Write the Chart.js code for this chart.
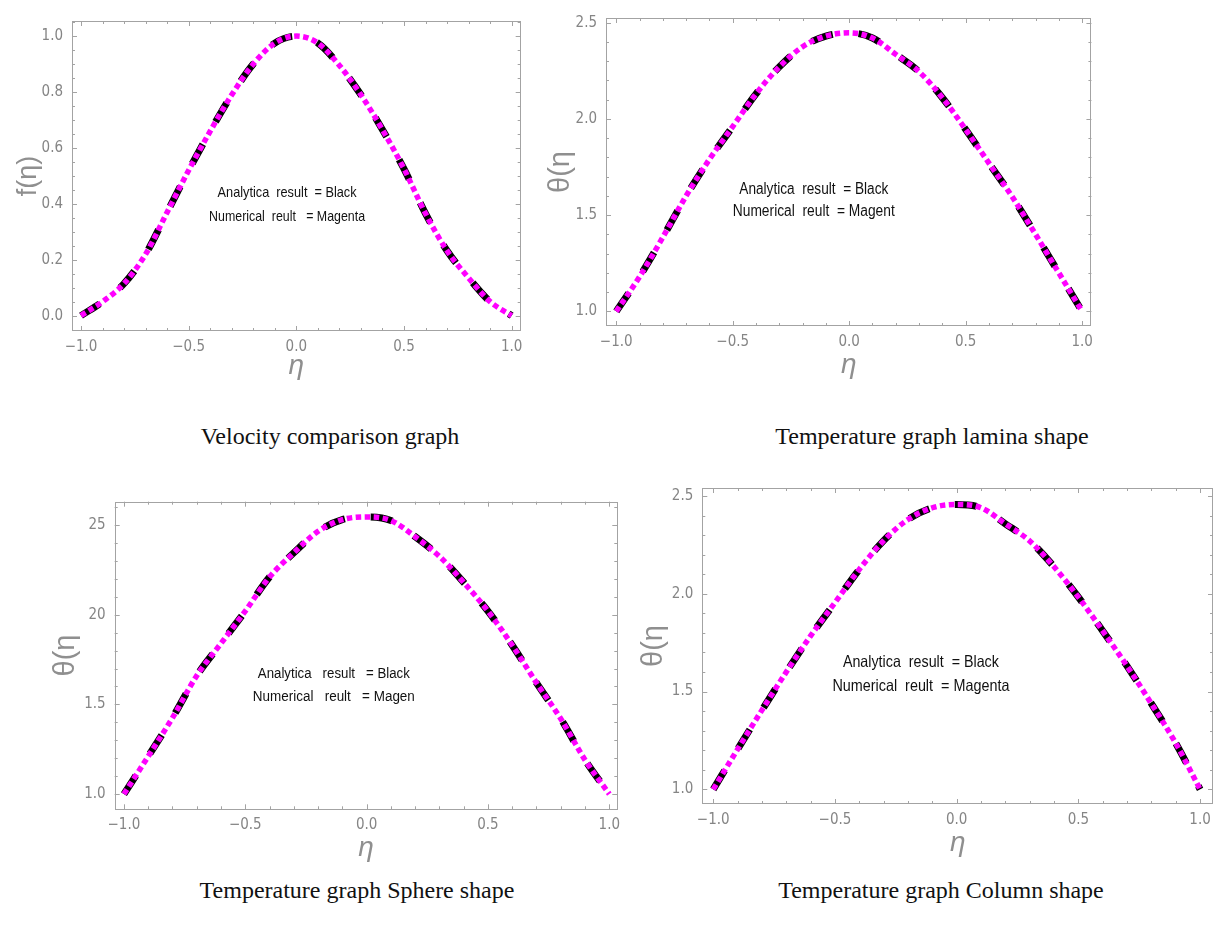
<!DOCTYPE html>
<html>
<head>
<meta charset="utf-8">
<script src="https://cdn.jsdelivr.net/npm/chart.js@4.4.0/dist/chart.umd.min.js"></script>
<style>
  body { margin: 0; background: #fff; width: 1223px; height: 926px; position: relative; overflow: hidden; }
  canvas { position: absolute; }
  .caption { position: absolute; font-family: "Liberation Serif", "Times New Roman", serif; font-size: 24px;
             line-height: 24px; color: #111; white-space: nowrap; transform: translateX(-50%); }
</style>
</head>
<body>
<canvas id="velocityChart" width="540" height="390" style="left:0px;top:0px"></canvas>
<canvas id="laminaChart" width="560" height="390" style="left:540px;top:0px"></canvas>
<canvas id="sphereChart" width="590" height="390" style="left:40px;top:480px"></canvas>
<canvas id="columnChart" width="593" height="400" style="left:630px;top:470px"></canvas>

<div class="caption" style="left:330px;top:424px">Velocity comparison graph</div>
<div class="caption" style="left:932px;top:424px">Temperature graph lamina shape</div>
<div class="caption" style="left:357px;top:878px">Temperature graph Sphere shape</div>
<div class="caption" style="left:941px;top:878px">Temperature graph Column shape</div>

<script>
// eta grid shared by all four plots
const eta = [-1.0, -0.9, -0.8, -0.7, -0.6, -0.5, -0.4, -0.3, -0.2, -0.1, 0.0,
              0.1, 0.2, 0.3, 0.4, 0.5, 0.6, 0.7, 0.8, 0.9, 1.0];

// values (analytical and numerical overlap)
const velocity   = [0.0, 0.05, 0.115, 0.22, 0.37, 0.52, 0.66, 0.79, 0.9, 0.975, 1.0,
                    0.975, 0.895, 0.79, 0.665, 0.525, 0.365, 0.232, 0.135, 0.05, 0.0];
const tempLamina = [1.0, 1.18, 1.385, 1.6, 1.79, 1.96, 2.13, 2.27, 2.375, 2.43, 2.447,
                    2.42, 2.335, 2.245, 2.11, 1.945, 1.77, 1.595, 1.4, 1.2, 1.0];
const tempSphere = [1.0, 1.21, 1.425, 1.66, 1.84, 2.02, 2.21, 2.345, 2.465, 2.53, 2.545,
                    2.525, 2.435, 2.325, 2.18, 2.02, 1.83, 1.62, 1.42, 1.19, 1.0];
const tempColumn = [1.0, 1.205, 1.405, 1.6, 1.785, 1.955, 2.125, 2.272, 2.38, 2.44, 2.457,
                    2.44, 2.358, 2.27, 2.138, 1.983, 1.81, 1.63, 1.438, 1.236, 1.0];

// tick labels
const xTickValues = [-1, -0.5, 0, 0.5, 1];
const xTickLabels = ["\u22121.0", "\u22120.5", "0.0", "0.5", "1.0"];
const velTickValues = [0, 0.2, 0.4, 0.6, 0.8, 1.0];
const velTickLabels = ["0.0", "0.2", "0.4", "0.6", "0.8", "1.0"];
const tempTickValues = [1.0, 1.5, 2.0, 2.5];
const tempTickLabels = ["1.0", "1.5", "2.0", "2.5"];
const sphereTickLabels = ["1.0", "1.5", "20", "25"];

const narrow = "'Liberation Sans Narrow', 'DejaVu Sans Condensed', 'Liberation Sans', sans-serif";
const frameGray = "#a3a3a3";
const labelGray = "#858585";

// Mathematica-style frame with inward ticks on all four sides + the text note
const frameTicks = {
    id: "frameTicks",
    afterDraw(chart, args, opts) {
        const { ctx, chartArea: a, scales: { x, y } } = chart;
        ctx.save();
        ctx.strokeStyle = frameGray;
        ctx.lineWidth = 1;
        ctx.strokeRect(Math.round(a.left) + 0.5, Math.round(a.top) + 0.5,
                       Math.round(a.width) - 1, Math.round(a.height) - 1);

        ctx.beginPath();
        const xMinor = opts.xMinor, yMinor = opts.yMinor;
        for (let k = Math.ceil(x.min / xMinor - 1e-6); k * xMinor <= x.max + 1e-9; k++) {
            const v = k * xMinor;
            const isMajor = Math.abs(v / opts.xMajor - Math.round(v / opts.xMajor)) < 1e-6;
            const len = isMajor ? 5 : 3;
            const px = Math.round(x.getPixelForValue(v)) + 0.5;
            ctx.moveTo(px, a.bottom); ctx.lineTo(px, a.bottom - len);
            ctx.moveTo(px, a.top); ctx.lineTo(px, a.top + len);
        }
        for (let k = Math.ceil(y.min / yMinor - 1e-6); k * yMinor <= y.max + 1e-9; k++) {
            const v = k * yMinor;
            const isMajor = Math.abs(v / opts.yMajor - Math.round(v / opts.yMajor)) < 1e-6;
            const len = isMajor ? 5 : 3;
            const py = Math.round(y.getPixelForValue(v)) + 0.5;
            ctx.moveTo(a.left, py); ctx.lineTo(a.left + len, py);
            ctx.moveTo(a.right, py); ctx.lineTo(a.right - len, py);
        }
        ctx.stroke();

        // annotation, squeezed to the condensed look of the original
        ctx.fillStyle = "#111";
        ctx.font = opts.noteSize + "px 'Liberation Sans', sans-serif";
        ctx.textAlign = "center";
        ctx.textBaseline = "middle";
        const cx = x.getPixelForValue(opts.noteX);
        opts.noteLines.forEach((line, i) => {
            const w = ctx.measureText(line).width;
            const sx = Math.min(1, opts.noteWidths[i] / w);
            ctx.save();
            ctx.translate(cx, y.getPixelForValue(opts.noteY[i]));
            ctx.scale(sx, 1);
            ctx.fillText(line, 0, 0);
            ctx.restore();
        });
        ctx.restore();
    }
};

function curves(values) {
    return [
        {
            label: "Numerical",
            data: eta.map((e, i) => ({ x: e, y: values[i] })),
            borderColor: "#ff00ff",
            borderWidth: 5.5,
            borderDash: [5.5, 3.5],
            order: 0
        },
        {
            label: "Analytical",
            data: eta.map((e, i) => ({ x: e, y: values[i] })),
            borderColor: "#000000",
            borderWidth: 7,
            borderDash: [22, 26],
            order: 1
        }
    ];
}

function makeChart(id, cfg) {
    new Chart(document.getElementById(id), {
        type: "line",
        data: { datasets: curves(cfg.values) },
        plugins: [frameTicks],
        options: {
            responsive: false,
            animation: false,
            devicePixelRatio: 1,
            layout: { padding: { left: 0, right: cfg.padRight, top: cfg.padTop, bottom: 0 } },
            elements: {
                point: { radius: 0 },
                line: { cubicInterpolationMode: "monotone", borderCapStyle: "butt", fill: false }
            },
            plugins: {
                legend: { display: false },
                tooltip: { enabled: false },
                frameTicks: {
                    xMajor: 0.5, xMinor: 0.1, yMajor: cfg.yMajor, yMinor: cfg.yMinor,
                    noteX: cfg.noteX, noteY: cfg.noteY, noteLines: cfg.noteLines,
                    noteSize: cfg.noteSize, noteWidths: cfg.noteWidths
                }
            },
            scales: {
                x: {
                    type: "linear",
                    min: cfg.xMin, max: cfg.xMax,
                    afterBuildTicks: s => { s.ticks = xTickValues.map(v => ({ value: v })); },
                    afterFit: s => { s.height = cfg.xH; },
                    grid: { display: false, drawTicks: false },
                    border: { display: false },
                    ticks: {
                        autoSkip: false, maxRotation: 0, padding: 7,
                        color: labelGray, font: { family: narrow, size: 15 },
                        callback: (v, i) => xTickLabels[i]
                    },
                    title: {
                        display: true, text: "\u03b7", color: "#8f8f8f",
                        font: { family: "'Liberation Sans', sans-serif", style: "italic", size: 28 },
                        padding: { top: 0, bottom: cfg.xTitlePad }
                    }
                },
                y: {
                    type: "linear",
                    min: cfg.yMin, max: cfg.yMax,
                    afterBuildTicks: s => { s.ticks = cfg.yTicks.map(v => ({ value: v })); },
                    afterFit: s => { s.width = cfg.yW; },
                    grid: { display: false, drawTicks: false },
                    border: { display: false },
                    ticks: {
                        autoSkip: false, padding: 9,
                        color: labelGray, font: { family: narrow, size: 15 },
                        callback: (v, i) => cfg.yLabels[i]
                    },
                    title: {
                        display: true, text: cfg.yTitle, color: "#8f8f8f",
                        font: { family: "'Liberation Sans', sans-serif", size: cfg.yTitleSize },
                        padding: { top: cfg.yTitlePad, bottom: 0 }
                    }
                }
            }
        }
    });
}

makeChart("velocityChart", {
    values: velocity,
    xMin: -1.042, xMax: 1.042, yMin: -0.055, yMax: 1.054,
    yTicks: velTickValues, yLabels: velTickLabels, yMajor: 0.2, yMinor: 0.05,
    padTop: 21, padRight: 19.3, yW: 72, xH: 59, xTitlePad: 7.2,
    yTitle: "f(\u03b7)", yTitleSize: 27, yTitlePad: 12.4,
    noteX: -0.043, noteY: [0.438, 0.354], noteSize: 15, noteWidths: [139, 156],
    noteLines: ["Analytica  result  = Black", "Numerical  reult   = Magenta"]
});

makeChart("laminaChart", {
    values: tempLamina,
    xMin: -1.044, xMax: 1.04, yMin: 0.924, yMax: 2.524,
    yTicks: tempTickValues, yLabels: tempTickLabels, yMajor: 0.5, yMinor: 0.1,
    padTop: 11, padRight: 8.3, yW: 66, xH: 64, xTitlePad: 8.2,
    yTitle: "\u03b8(\u03b7", yTitleSize: 29, yTitlePad: 3.2,
    noteX: -0.152, noteY: [1.635, 1.518], noteSize: 16, noteWidths: [149, 162],
    noteLines: ["Analytica  result  = Black", "Numerical  reult  = Magent"]
});

makeChart("sphereChart", {
    values: tempSphere,
    xMin: -1.038, xMax: 1.033, yMin: 0.915, yMax: 2.63,
    yTicks: tempTickValues, yLabels: sphereTickLabels, yMajor: 0.5, yMinor: 0.1,
    padTop: 21.7, padRight: 12.7, yW: 74.7, xH: 60.7, xTitlePad: 5.2,
    yTitle: "\u03b8(\u03b7", yTitleSize: 29, yTitlePad: 8.2,
    noteX: -0.135, noteY: [1.669, 1.541], noteSize: 15.5, noteWidths: [152, 162],
    noteLines: ["Analytica   result   = Black", "Numerical   reult   = Magen"]
});

makeChart("columnChart", {
    values: tempColumn,
    xMin: -1.045, xMax: 1.053, yMin: 0.925, yMax: 2.541,
    yTicks: tempTickValues, yLabels: tempTickLabels, yMajor: 0.5, yMinor: 0.1,
    padTop: 17.7, padRight: 10, yW: 72.3, xH: 66, xTitlePad: 10.2,
    yTitle: "\u03b8(\u03b7", yTitleSize: 29, yTitlePad: 6.2,
    noteX: -0.147, noteY: [1.647, 1.524], noteSize: 16.5, noteWidths: [156, 177],
    noteLines: ["Analytica  result  = Black", "Numerical  reult  = Magenta"]
});
</script>
</body>
</html>
